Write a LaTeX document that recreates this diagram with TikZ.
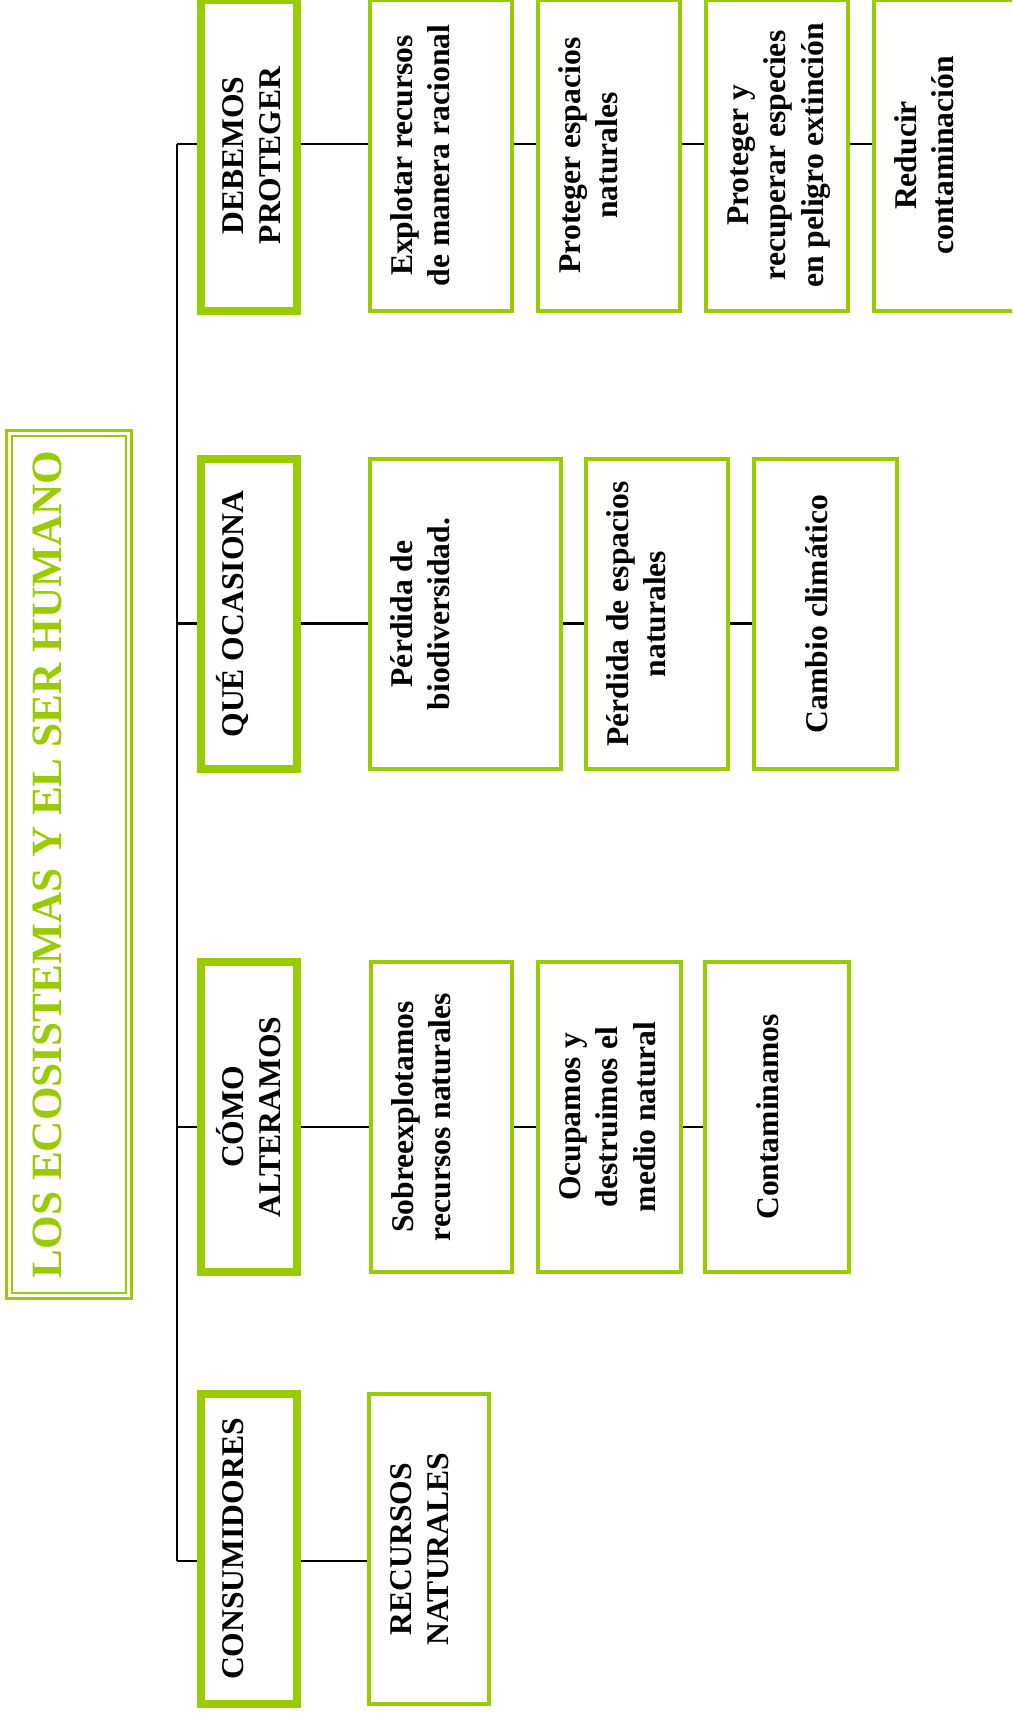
\documentclass[tikz,border=0pt]{standalone}
\usepackage{fontspec}
\setmainfont{Liberation Serif}
\definecolor{verde}{RGB}{153,204,0}
\newcommand{\caja}[4][0.84cm]{\parbox[c][#3][t]{#2}{\centering\rule{0pt}{#1}#4}}

\begin{document}
\begin{tikzpicture}
      [x=0.02cm, y=-0.02cm,
       every node/.style={rotate=90, inner sep=0pt, font=\bfseries\fontsize{18}{21.6}\selectfont},
       titulo/.style={draw=verde, double=white, double distance=0.06cm, line width=0.05cm, text=verde,
                      font=\bfseries\fontsize{24.6}{29.5}\selectfont},
       categoria/.style={draw=verde, line width=0.16cm},
       idea/.style={draw=verde, line width=0.08cm},
       conector/.style={line width=0.05cm}]
      \clip (0,0) rectangle (1012,1717);

      \node [titulo] (titulo) at (69,864.5) {\caja[1.05cm]{17.26cm}{2.4cm}{LOS ECOSISTEMAS Y EL SER HUMANO}};

      \node [categoria] (proteger) at (249,155.5) {\caja{6.22cm}{1.92cm}{DEBEMOS\\PROTEGER}};
      \node [categoria] (ocasiona) at (249,614) {\caja{6.22cm}{1.92cm}{QUÉ OCASIONA}};
      \node [categoria] (alteramos) at (249,1117) {\caja{6.22cm}{1.92cm}{CÓMO\\ALTERAMOS}};
      \node [categoria] (consumidores) at (249,1549) {\caja{6.22cm}{1.92cm}{CONSUMIDORES}};

      \node [idea] (explotar) at (441,155.5) {\caja{6.22cm}{2.84cm}{Explotar recursos\\de manera racional}};
      \node [idea] (espacios) at (609,155.5) {\caja{6.22cm}{2.84cm}{Proteger espacios\\naturales}};
      \node [idea] (especies) at (777,155.5) {\caja{6.22cm}{2.84cm}{Proteger y\\recuperar especies\\en peligro extinción}};
      \node [idea] (reducir) at (945,155.5) {\caja{6.22cm}{2.84cm}{Reducir\\contaminación}};

      \node [idea] (biodiversidad) at (465.5,614) {\caja{6.22cm}{3.82cm}{Pérdida de\\biodiversidad.}};
      \node [idea] (perdida) at (657,614) {\caja{6.22cm}{2.84cm}{Pérdida de espacios\\naturales}};
      \node [idea] (clima) at (825.5,614) {\caja[1.46cm]{6.22cm}{2.86cm}{Cambio climático}};

      \node [idea] (sobreexplotar) at (441.5,1117) {\caja{6.22cm}{2.82cm}{Sobreexplotamos\\recursos naturales}};
      \node [idea] (ocupar) at (609.5,1117) {\caja{6.22cm}{2.86cm}{Ocupamos y\\destruimos el\\medio natural}};
      \node [idea] (contaminar) at (777,1117) {\caja[1.46cm]{6.22cm}{2.88cm}{Contaminamos}};

      \node [idea] (recursos) at (429,1549) {\caja{6.22cm}{2.4cm}{RECURSOS\\NATURALES}};

      \coordinate (filaP) at (177,144);
      \coordinate (filaQ) at (177,623.5);
      \coordinate (filaC) at (177,1127);
      \coordinate (filaR) at (177,1561);

      \draw [conector] (filaP) -- (filaR);
      \foreach \fila/\cat in {filaP/proteger, filaQ/ocasiona, filaC/alteramos, filaR/consumidores}
      \draw [conector] (\fila) -- (\fila -| \cat.north);

      \foreach \fila/\from/\to in {filaP/proteger/explotar, filaP/explotar/espacios, filaP/espacios/especies,
                                   filaP/especies/reducir, filaQ/ocasiona/biodiversidad, filaQ/biodiversidad/perdida,
                                   filaQ/perdida/clima, filaC/alteramos/sobreexplotar, filaC/sobreexplotar/ocupar,
                                   filaC/ocupar/contaminar, filaR/consumidores/recursos}
      \draw [conector] (\fila -| \from.south) -- (\fila -| \to.north);
    \end{tikzpicture}
\end{document}
